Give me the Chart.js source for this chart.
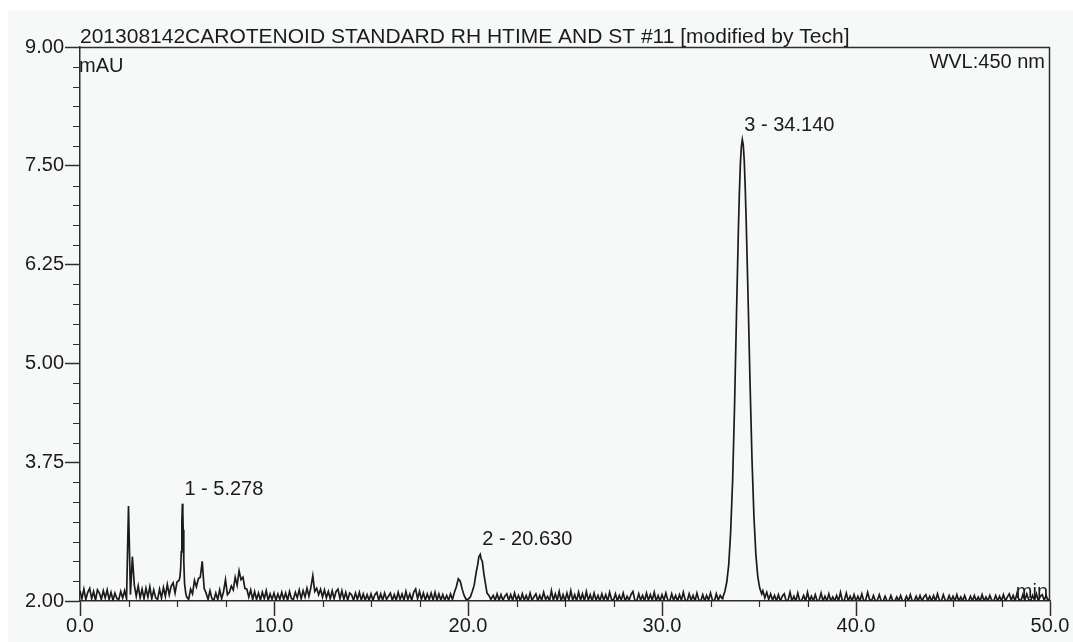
<!DOCTYPE html>
<html>
<head>
<meta charset="utf-8">
<title>Carotenoid standard chromatogram</title>
<style>
  html, body { margin: 0; padding: 0; background: #ffffff; overflow: hidden; }
  #wrap { width: 1073px; height: 642px; position: relative; }
  canvas { display: block; }
</style>
<script src="https://cdn.jsdelivr.net/npm/chart.js@4.4.1/dist/chart.umd.min.js"></script>
</head>
<body>
<div id="wrap"><canvas id="chromatogram" width="1073" height="642"></canvas></div>
<script>
// Detector signal (mAU) sampled every 0.1 min; null marks samples that the
// finer peak traces below take over.
const SAMPLE_STEP_MIN = 0.1;

const signal0to10 = [
  2.13, 2.03, 2.15, 2.02, 2.11, 2.16, 2.03, 2.12, 2.01, 2.14,
  2.10, 2.02, 2.13, 2.04, 2.14, 2.02, 2.11, 2.01, 2.10, 2.03,
  2.02, 2.12, 2.04, 2.13, 2.03, 3.20, 2.08, 2.56, 2.20, 2.06,
  2.19, 2.04, 2.15, 2.03, 2.16, 2.05, 2.18, 2.03, 2.14, 2.04,
  2.02, 2.15, 2.04, 2.17, 2.06, 2.21, 2.08, 2.19, 2.23, 2.10,
  2.24, null, null, null, null, 2.05, 2.02, 2.15, 2.09, 2.26,
  2.18, 2.28, 2.30, 2.50, 2.16, 2.10, 2.02, 2.13, 2.03, 2.01,
  2.10, 2.02, 2.14, 2.03, 2.12, 2.27, 2.08, 2.11, 2.19, 2.14,
  2.30, 2.20, 2.38, 2.27, 2.30, 2.16, 2.15, 2.05, 2.14, 2.02,
  2.12, 2.02, 2.10, 2.01, 2.11, 2.03, 2.13, 2.01, 2.09, 2.02
];

const signal10to20 = [
  2.10, 2.01, 2.09, 2.02, 2.11, 2.02, 2.10, 2.01, 2.12, 2.03,
  2.02, 2.11, 2.04, 2.14, 2.03, 2.13, 2.05, 2.16, 2.06, 2.17,
  2.32, 2.12, 2.16, 2.08, 2.15, 2.05, 2.14, 2.04, 2.12, 2.03,
  2.13, 2.03, 2.12, 2.15, 2.03, 2.13, 2.02, 2.11, 2.01, 2.10,
  2.08, 2.01, 2.10, 2.02, 2.11, 2.01, 2.09, 2.01, 2.08, 2.01,
  2.09, 2.01, 2.08, 2.11, 2.01, 2.09, 2.01, 2.10, 2.02, 2.06,
  2.10, 2.01, 2.08, 2.01, 2.11, 2.02, 2.09, 2.01, 2.12, 2.02,
  2.09, 2.01, 2.11, 2.15, 2.03, 2.12, 2.02, 2.10, 2.01, 2.09,
  2.02, 2.10, 2.01, 2.11, 2.01, 2.09, 2.01, 2.08, 2.01, 2.07,
  2.01, 2.09, 2.02, 2.11, 2.18, 2.28, 2.25, 2.15, 2.07, 2.02
];

const signal20to30 = [
  2.02, null, null, null, null, null, null, null, null, null,
  null, null, null, 2.07, 2.01, 2.09, 2.01, 2.08, 2.01, 2.06,
  2.09, 2.01, 2.08, 2.01, 2.10, 2.01, 2.07, 2.00, 2.09, 2.01,
  2.07, 2.00, 2.10, 2.01, 2.05, 2.09, 2.00, 2.07, 2.01, 2.11,
  2.02, 2.06, 2.00, 2.13, 2.01, 2.09, 2.01, 2.12, 2.00, 2.08,
  2.00, 2.10, 2.01, 2.13, 2.01, 2.08, 2.00, 2.11, 2.01, 2.09,
  2.00, 2.12, 2.01, 2.08, 2.00, 2.10, 2.01, 2.07, 2.00, 2.09,
  2.01, 2.08, 2.00, 2.11, 2.02, 2.01, 2.09, 2.00, 2.07, 2.01,
  2.10, 2.00, 2.06, 2.01, 2.08, 2.12, 2.01, 2.00, 2.09, 2.01,
  2.07, 2.00, 2.10, 2.01, 2.08, 2.01, 2.11, 2.00, 2.07, 2.00
];

const signal30to40 = [
  2.08, 2.01, 2.10, 2.01, 2.00, 2.09, 2.01, 2.07, 2.00, 2.08,
  2.01, 2.11, 2.01, 2.00, 2.09, 2.01, 2.07, 2.00, 2.10, 2.01,
  2.00, 2.08, 2.00, 2.07, 2.01, 2.10, 2.01, 2.00, 2.09, 2.01,
  2.07, 2.03, null, null, null, null, null, null, null, null,
  null, null, null, null, null, null, null, null, null, null,
  null, null, 2.13, 2.04, 2.11, 2.02, 2.09, 2.01, 2.07, 2.00,
  2.08, 2.00, 2.06, 2.09, 2.00, 2.01, 2.11, 2.00, 2.06, 2.00,
  2.10, 2.00, 2.01, 2.07, 2.00, 2.11, 2.00, 2.06, 2.00, 2.08,
  2.00, 2.01, 2.10, 2.00, 2.06, 2.00, 2.09, 2.00, 2.05, 2.00,
  2.07, 2.00, 2.11, 2.00, 2.01, 2.10, 2.00, 2.06, 2.00, 2.08
];

const signal40to50 = [
  2.00, 2.06, 2.00, 2.09, 2.00, 2.01, 2.11, 2.02, 2.00, 2.07,
  2.00, 2.01, 2.08, 2.00, 2.00, 2.06, 2.00, 2.00, 2.07, 2.00,
  2.00, 2.05, 2.00, 2.07, 2.00, 2.00, 2.06, 2.00, 2.08, 2.00,
  2.00, 2.06, 2.00, 2.07, 2.00, 2.05, 2.08, 2.00, 2.06, 2.00,
  2.07, 2.00, 2.09, 2.01, 2.00, 2.08, 2.01, 2.00, 2.07, 2.00,
  2.06, 2.00, 2.08, 2.00, 2.05, 2.00, 2.07, 2.00, 2.00, 2.06,
  2.00, 2.07, 2.00, 2.05, 2.00, 2.08, 2.00, 2.05, 2.00, 2.07,
  2.01, 2.00, 2.07, 2.00, 2.06, 2.00, 2.08, 2.00, 2.05, 2.09,
  2.01, 2.07, 2.00, 2.10, 2.02, 2.00, 2.08, 2.01, 2.09, 2.02,
  2.00, 2.07, 2.01, 2.09, 2.00, 2.06, 2.08, 2.01, 2.07, 2.00,
  2.04
];

// Integrated peaks, traced at finer time resolution.
const peakNumbers   = [1, 2, 3];
const peakRetention = [5.278, 20.630, 34.140];

const peak1Time   = [5.10, 5.15, 5.19, 5.22, 5.25, 5.278, 5.30, 5.32, 5.35, 5.39, 5.45];
const peak1Signal = [2.26, 2.30, 2.42, 2.62, 3.00, 3.23, 3.12, 2.90, 2.50, 2.22, 2.10];

const peak2Time   = [20.12, 20.22, 20.32, 20.42, 20.50, 20.56, 20.63, 20.68, 20.74, 20.82, 20.90, 20.98, 21.08, 21.18];
const peak2Signal = [2.05, 2.12, 2.20, 2.36, 2.46, 2.56, 2.59, 2.53, 2.50, 2.34, 2.22, 2.10, 2.07, 2.02];

const peak3Time   = [33.14, 33.24, 33.34, 33.44, 33.54, 33.64, 33.74, 33.84, 33.94, 33.99, 34.04, 34.09, 34.14,
                     34.19, 34.24, 34.29, 34.34, 34.44, 34.54, 34.64, 34.74, 34.84, 34.94, 35.04, 35.14];
const peak3Signal = [2.05, 2.12, 2.24, 2.46, 2.88, 3.52, 4.46, 5.62, 6.72, 7.17, 7.52, 7.74, 7.83,
                     7.76, 7.56, 7.22, 6.80, 5.80, 4.74, 3.78, 3.06, 2.58, 2.30, 2.16, 2.09];

// Axis ticks
const xMajorTicks = [0, 10, 20, 30, 40, 50];
const xMinorStep  = 2.5;
const yMajorTicks = [2.00, 3.75, 5.00, 6.25, 7.50, 9.00];
const yMinorStep  = 0.25;

// Header texts
const runTitle   = '201308142CAROTENOID STANDARD RH HTIME AND ST #11 [modified by Tech]';
const yUnit      = 'mAU';
const xUnit      = 'min';
const wavelength = 'WVL:450 nm';

// ---- assemble the trace ----
const segments = [signal0to10, signal10to20, signal20to30, signal30to40, signal40to50];
const tracePoints = [];
segments.forEach((seg, s) => {
  seg.forEach((v, i) => {
    if (v !== null) tracePoints.push({ x: +(s * 10 + i * SAMPLE_STEP_MIN).toFixed(2), y: v });
  });
});
const peakTraces = [[peak1Time, peak1Signal], [peak2Time, peak2Signal], [peak3Time, peak3Signal]];
peakTraces.forEach(([times, values]) => {
  times.forEach((t, i) => tracePoints.push({ x: t, y: values[i] }));
});
tracePoints.sort((a, b) => a.x - b.x);

const INK = '#1b1b1b';
const AXIS = '#2e2e2e';
const FONT = '"Liberation Sans", Arial, Helvetica, sans-serif';

const decorations = {
  id: 'chromatogramDecorations',
  beforeDraw(chart) {
    const { ctx, width, height } = chart;
    ctx.save();
    ctx.fillStyle = '#ffffff';
    ctx.fillRect(0, 0, width, height);
    ctx.fillStyle = '#f7f9f9';
    ctx.fillRect(8, 11, width - 8, height - 11);
    ctx.restore();
  },
  afterDraw(chart) {
    const { ctx, chartArea: a, scales } = chart;
    const xs = scales.x, ys = scales.y;
    ctx.save();
    ctx.strokeStyle = AXIS;
    ctx.lineWidth = 1.5;

    // frame: top and right edges
    ctx.beginPath();
    ctx.moveTo(a.left, a.top + 0.5);
    ctx.lineTo(a.right, a.top + 0.5);
    ctx.moveTo(a.right - 0.5, a.top);
    ctx.lineTo(a.right - 0.5, a.bottom);
    ctx.stroke();

    // minor ticks
    ctx.lineWidth = 1.2;
    ctx.beginPath();
    for (let k = 0; ; k++) {
      const v = ys.min + k * yMinorStep;
      if (v > ys.max + 1e-9) break;
      if (yMajorTicks.some(m => Math.abs(m - v) < 1e-6)) continue;
      const py = Math.round(ys.getPixelForValue(v)) + 0.5;
      ctx.moveTo(a.left - 7, py);
      ctx.lineTo(a.left, py);
    }
    for (let k = 0; ; k++) {
      const v = xs.min + k * xMinorStep;
      if (v > xs.max + 1e-9) break;
      if (xMajorTicks.some(m => Math.abs(m - v) < 1e-6)) continue;
      const px = Math.round(xs.getPixelForValue(v)) + 0.5;
      ctx.moveTo(px, a.bottom);
      ctx.lineTo(px, a.bottom + 6);
    }
    ctx.stroke();

    // header texts
    ctx.fillStyle = INK;
    ctx.textBaseline = 'alphabetic';
    ctx.textAlign = 'left';
    ctx.font = '21px ' + FONT;
    ctx.fillText(runTitle, a.left, 43);
    ctx.font = '20px ' + FONT;
    ctx.fillText(yUnit, a.left - 1, 72);
    ctx.textAlign = 'right';
    ctx.fillText(wavelength, a.right - 5, 68);
    ctx.fillText(xUnit, a.right - 2, a.bottom - 3);

    // peak annotations: number - retention time, next to each apex
    ctx.textAlign = 'left';
    peakTraces.forEach(([times, values], p) => {
      const apex = Math.max(...values);
      const px = xs.getPixelForValue(peakRetention[p]);
      const py = ys.getPixelForValue(apex);
      ctx.fillText(peakNumbers[p] + ' - ' + peakRetention[p].toFixed(3), px + 2, py - 9);
    });
    ctx.restore();
  }
};

new Chart(document.getElementById('chromatogram'), {
  type: 'line',
  data: {
    datasets: [{
      data: tracePoints,
      borderColor: INK,
      borderWidth: 1.7,
      pointRadius: 0,
      tension: 0,
      fill: false
    }]
  },
  options: {
    responsive: false,
    animation: false,
    devicePixelRatio: 1,
    layout: { padding: { left: 0, right: 23, top: 47, bottom: 0 } },
    plugins: { legend: { display: false }, tooltip: { enabled: false }, title: { display: false } },
    scales: {
      x: {
        type: 'linear',
        min: 0,
        max: 50,
        afterBuildTicks: s => { s.ticks = xMajorTicks.map(v => ({ value: v })); },
        afterFit: s => { s.height = 41; },
        grid: { drawOnChartArea: false, drawTicks: true, tickLength: 15, tickColor: AXIS, tickWidth: 1.5 },
        border: { display: true, color: AXIS, width: 1.5 },
        ticks: {
          autoSkip: false, maxRotation: 0, padding: -2, color: INK,
          font: { family: FONT, size: 20 },
          callback: v => Number(v).toFixed(1)
        }
      },
      y: {
        type: 'linear',
        min: 2,
        max: 9,
        afterBuildTicks: s => { s.ticks = yMajorTicks.map(v => ({ value: v })); },
        afterFit: s => { s.width = 80; },
        grid: { drawOnChartArea: false, drawTicks: true, tickLength: 15, tickColor: AXIS, tickWidth: 1.5 },
        border: { display: true, color: AXIS, width: 1.5 },
        ticks: {
          autoSkip: false, padding: 1, color: INK,
          font: { family: FONT, size: 20 },
          callback: v => Number(v).toFixed(2)
        }
      }
    }
  },
  plugins: [decorations]
});
</script>
</body>
</html>
